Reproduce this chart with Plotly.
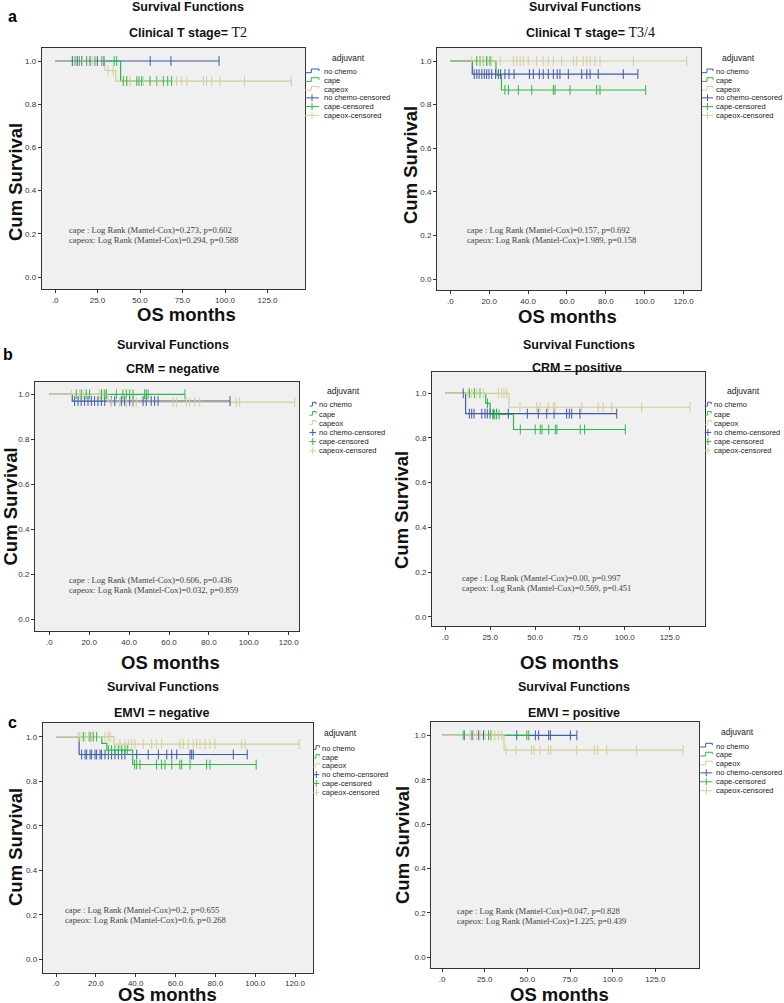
import plotly.graph_objects as go

# ---------------- DATA ----------------
GROUPS = ["no chemo", "cape", "capeox"]
COLORS = {"no chemo": "#3E58AC", "cape": "#2EB848", "capeox": "#D3CE97"}

# Panel a-left: Clinical T stage = T2
A1_NOCHEMO_EVENT_T = []
A1_NOCHEMO_EVENT_S = []
A1_NOCHEMO_CENS = [10.2, 13.1, 15.7, 20.6, 24.9, 28.8, 56.0, 68.2, 96.5]
A1_CAPE_EVENT_T = [38.6]
A1_CAPE_EVENT_S = [0.907]
A1_CAPE_CENS = [11.8, 14.3, 18.6, 23.5, 27.5, 34.8, 36.3, 40.2, 42.2, 48.1, 49.4, 51.0, 55.9, 59.8, 63.7, 66.3, 68.6]
A1_CAPEOX_EVENT_T = [29.4, 35.7]
A1_CAPEOX_EVENT_S = [0.956, 0.907]
A1_CAPEOX_CENS = [16.0, 22.0, 31.3, 34.2, 44.0, 52.0, 60.0, 71.6, 74.5, 77.5, 87.3, 89.2, 92.2, 97.1, 111.5, 139.0]

# Panel a-right: Clinical T stage = T3/4
A2_NOCHEMO_EVENT_T = [11.3]
A2_NOCHEMO_EVENT_S = [0.94]
A2_NOCHEMO_CENS = [12.3, 13.6, 14.8, 16.2, 17.5, 18.7, 19.9, 21.3, 23.3, 24.7, 25.9, 28.1, 30.2, 32.8, 40.7,
                   42.7, 45.8, 47.8, 50.4, 53.0, 55.0, 56.4, 60.7, 67.6, 70.2, 71.9, 76.1, 89.0, 96.5]
A2_CAPE_EVENT_T = [23.5, 26.3]
A2_CAPE_EVENT_S = [0.935, 0.867]
A2_CAPE_CENS = [13.6, 15.3, 17.0, 18.7, 20.4, 28.1, 29.9, 35.0, 41.9, 53.0, 53.9, 61.6, 75.3, 77.0, 100.5]
A2_CAPEOX_EVENT_T = []
A2_CAPEOX_EVENT_S = []
A2_CAPEOX_CENS = [11.0, 15.3, 17.0, 19.2, 21.3, 25.6, 32.4, 34.2, 35.9, 37.6, 40.1, 44.4, 47.8, 50.4, 53.0,
                  57.3, 63.3, 65.0, 68.4, 70.2, 71.9, 74.4, 77.0, 94.1, 121.6]

# Panel b-left: CRM = negative
B1_NOCHEMO_EVENT_T = [11.5]
B1_NOCHEMO_EVENT_S = [0.97]
B1_NOCHEMO_CENS = [12.7, 14.4, 16.0, 17.7, 19.4, 21.1, 22.7, 24.4, 26.1, 27.8, 31.1, 32.8, 36.1, 37.8, 40.3,
                   42.0, 47.0, 48.6, 51.1, 52.8, 54.5, 90.6]
B1_CAPE_EVENT_T = []
B1_CAPE_EVENT_S = []
B1_CAPE_CENS = [13.5, 16.0, 18.5, 20.2, 26.1, 27.8, 28.6, 33.6, 36.9, 38.6, 40.3, 42.0, 47.8, 48.6, 49.5, 68.0]
B1_CAPEOX_EVENT_T = [29.4]
B1_CAPEOX_EVENT_S = [0.965]
B1_CAPEOX_CENS = [11.0, 15.2, 16.9, 25.3, 26.9, 31.1, 35.3, 38.6, 42.0, 43.6, 62.0, 63.7, 68.7, 70.4, 72.9,
                  75.4, 93.7, 95.4, 123.0]

# Panel b-right: CRM = positive
B2_NOCHEMO_EVENT_T = [11.3]
B2_NOCHEMO_EVENT_S = [0.909]
B2_NOCHEMO_CENS = [10.0, 13.4, 14.7, 16.0, 20.3, 22.1, 23.4, 24.9, 26.7, 28.6, 35.1, 45.7, 51.8, 56.5, 60.6,
                   67.6, 69.1, 70.4, 75.0, 95.5]
B2_CAPE_EVENT_T = [22.5, 25.0, 38.0]
B2_CAPE_EVENT_S = [0.955, 0.905, 0.838]
B2_CAPE_CENS = [13.4, 16.2, 19.3, 23.5, 26.5, 27.5, 28.5, 30.0, 41.8, 50.1, 52.9, 53.9, 57.6, 61.3, 62.2,
                75.2, 77.6, 100.3]
B2_CAPEOX_EVENT_T = [35.5]
B2_CAPEOX_EVENT_S = [0.9375]
B2_CAPEOX_CENS = [12.8, 14.7, 17.5, 19.3, 21.2, 29.5, 31.4, 32.7, 34.2, 41.6, 50.9, 52.8, 57.4, 60.2, 61.1,
                  76.0, 85.2, 88.0, 92.7, 109.4, 136.3]

# Panel c-left: EMVI = negative
C1_NOCHEMO_EVENT_T = [11.6]
C1_NOCHEMO_EVENT_S = [0.92]
C1_NOCHEMO_CENS = [12.9, 14.6, 15.4, 17.1, 17.9, 19.6, 20.4, 22.1, 22.9, 24.6, 26.3, 27.9, 29.6, 31.3, 33.0,
                   34.6, 40.5, 46.3, 51.4, 55.6, 58.1, 60.6, 67.3, 68.1, 68.9, 89.0, 96.0]
C1_CAPE_EVENT_T = [23.0, 25.5, 38.5]
C1_CAPE_EVENT_S = [0.97, 0.94, 0.875]
C1_CAPE_CENS = [13.7, 17.1, 18.7, 20.4, 26.3, 27.9, 29.6, 31.3, 33.0, 34.6, 35.8, 39.5, 40.5, 42.2, 50.5,
                53.0, 54.7, 58.1, 62.2, 63.1, 67.3, 75.6, 77.3, 100.5]
C1_CAPEOX_EVENT_T = [29.1]
C1_CAPEOX_EVENT_S = [0.967]
C1_CAPEOX_CENS = [11.2, 12.0, 14.6, 16.3, 17.9, 24.6, 26.3, 27.1, 32.1, 34.6, 36.3, 38.0, 39.7, 43.8, 48.0,
                  50.5, 53.0, 62.2, 63.9, 66.4, 68.9, 70.6, 72.3, 74.8, 77.3, 79.8, 93.2, 94.9, 122.0]

# Panel c-right: EMVI = positive
C2_NOCHEMO_EVENT_T = []
C2_NOCHEMO_EVENT_S = []
C2_NOCHEMO_CENS = [17.6, 21.5, 24.3, 43.8, 54.7, 56.6, 62.5, 63.5, 75.2, 79.0]
C2_CAPE_EVENT_T = []
C2_CAPE_EVENT_S = []
C2_CAPE_CENS = [12.4, 13.2, 27.3, 28.7, 49.7, 50.8]
C2_CAPEOX_EVENT_T = [36.3]
C2_CAPEOX_EVENT_S = [0.933]
C2_CAPEOX_CENS = [16.4, 18.4, 20.3, 22.3, 25.2, 29.1, 31.0, 33.0, 35.0, 37.5, 43.4, 52.5, 53.9, 57.4, 62.3,
                  63.7, 78.9, 89.2, 91.2, 96.5, 114.0, 141.2]

SUBTITLES = ["Clinical T stage= ", "Clinical T stage= ", "CRM = negative", "CRM = positive",
             "EMVI = negative", "EMVI = positive"]
SUBTITLE_SERIF = ["T2", "T3/4", "", "", "", ""]
LOGRANK_CAPE = ["cape : Log Rank (Mantel-Cox)=0.273, p=0.602",
                "cape : Log Rank (Mantel-Cox)=0.157, p=0.692",
                "cape : Log Rank (Mantel-Cox)=0.606, p=0.436",
                "cape : Log Rank (Mantel-Cox)=0.00, p=0.997",
                "cape : Log Rank (Mantel-Cox)=0.2, p=0.655",
                "cape : Log Rank (Mantel-Cox)=0.047, p=0.828"]
LOGRANK_CAPEOX = ["capeox: Log Rank (Mantel-Cox)=0.294, p=0.588",
                  "capeox: Log Rank (Mantel-Cox)=1.989, p=0.158",
                  "capeox: Log Rank (Mantel-Cox)=0.032, p=0.859",
                  "capeox: Log Rank (Mantel-Cox)=0.569, p=0.451",
                  "capeox: Log Rank (Mantel-Cox)=0.6, p=0.268",
                  "capeox: Log Rank (Mantel-Cox)=1.225, p=0.439"]
X_TICKS = [[0, 25, 50, 75, 100, 125], [0, 20, 40, 60, 80, 100, 120], [0, 20, 40, 60, 80, 100, 120],
           [0, 25, 50, 75, 100, 125], [0, 20, 40, 60, 80, 100, 120], [0, 25, 50, 75, 100, 125]]
Y_TICKS = [0.0, 0.2, 0.4, 0.6, 0.8, 1.0]
LEGEND_LABELS = ["no chemo", "cape", "capeox", "no chemo-censored", "cape-censored", "capeox-censored"]
PANEL_LETTERS = ["a", "", "b", "", "c", ""]

DATA = [
    {"no chemo": (A1_NOCHEMO_EVENT_T, A1_NOCHEMO_EVENT_S, A1_NOCHEMO_CENS),
     "cape": (A1_CAPE_EVENT_T, A1_CAPE_EVENT_S, A1_CAPE_CENS),
     "capeox": (A1_CAPEOX_EVENT_T, A1_CAPEOX_EVENT_S, A1_CAPEOX_CENS)},
    {"no chemo": (A2_NOCHEMO_EVENT_T, A2_NOCHEMO_EVENT_S, A2_NOCHEMO_CENS),
     "cape": (A2_CAPE_EVENT_T, A2_CAPE_EVENT_S, A2_CAPE_CENS),
     "capeox": (A2_CAPEOX_EVENT_T, A2_CAPEOX_EVENT_S, A2_CAPEOX_CENS)},
    {"no chemo": (B1_NOCHEMO_EVENT_T, B1_NOCHEMO_EVENT_S, B1_NOCHEMO_CENS),
     "cape": (B1_CAPE_EVENT_T, B1_CAPE_EVENT_S, B1_CAPE_CENS),
     "capeox": (B1_CAPEOX_EVENT_T, B1_CAPEOX_EVENT_S, B1_CAPEOX_CENS)},
    {"no chemo": (B2_NOCHEMO_EVENT_T, B2_NOCHEMO_EVENT_S, B2_NOCHEMO_CENS),
     "cape": (B2_CAPE_EVENT_T, B2_CAPE_EVENT_S, B2_CAPE_CENS),
     "capeox": (B2_CAPEOX_EVENT_T, B2_CAPEOX_EVENT_S, B2_CAPEOX_CENS)},
    {"no chemo": (C1_NOCHEMO_EVENT_T, C1_NOCHEMO_EVENT_S, C1_NOCHEMO_CENS),
     "cape": (C1_CAPE_EVENT_T, C1_CAPE_EVENT_S, C1_CAPE_CENS),
     "capeox": (C1_CAPEOX_EVENT_T, C1_CAPEOX_EVENT_S, C1_CAPEOX_CENS)},
    {"no chemo": (C2_NOCHEMO_EVENT_T, C2_NOCHEMO_EVENT_S, C2_NOCHEMO_CENS),
     "cape": (C2_CAPE_EVENT_T, C2_CAPE_EVENT_S, C2_CAPE_CENS),
     "capeox": (C2_CAPEOX_EVENT_T, C2_CAPEOX_EVENT_S, C2_CAPEOX_CENS)},
]

# ---------------- LAYOUT (pixel geometry) ----------------
W, H = 784, 1003
SANS = "Liberation Sans, Arial, sans-serif"
SERIF = "Liberation Serif, Times New Roman, serif"

PANELS = [
    dict(frame=(41.7, 305, 48, 289), x0px=55, ppu=1.70, y1px=61, y0px=277,
         sf=(188, 7), sub=(188, 32), ytit=(15, 182), xtit=(186, 314), letter=(12, 17),
         lr=(66.7, 230, 240), leg=dict(title=(348, 57.7), sx=305, sw=14, tx=321.5, y0=71.7, dy=8.72)),
    dict(frame=(437, 701, 48, 290), x0px=450.3, ppu=1.944, y1px=61, y0px=279,
         sf=(585, 7), sub=(590, 32), ytit=(410, 165), xtit=(567, 316), letter=(0, 0),
         lr=(464.7, 230, 240), leg=dict(title=(738.7, 57.7), sx=702, sw=11, tx=714, y0=71.7, dy=8.72)),
    dict(frame=(35, 299, 381.7, 631), x0px=49.3, ppu=1.995, y1px=394.3, y0px=619.3,
         sf=(173, 345), sub=(172, 369.3), ytit=(9.5, 507), xtit=(170, 662), letter=(8, 355),
         lr=(66.7, 580, 590), leg=dict(title=(343, 391), sx=309.5, sw=6.5, tx=316.5, y0=405, dy=9.15)),
    dict(frame=(432, 704.7, 371.7, 626), x0px=445.3, ppu=1.795, y1px=393.3, y0px=616.7,
         sf=(579, 345), sub=(577, 367.5), ytit=(401, 510), xtit=(569, 662), letter=(0, 0),
         lr=(460.3, 578.3, 588.3), leg=dict(title=(743.7, 391), sx=704.7, sw=6.5, tx=711.7, y0=405, dy=9.15)),
    dict(frame=(42.7, 313.3, 722.7, 972.7), x0px=56, ppu=1.992, y1px=736.7, y0px=959.3,
         sf=(163, 687.3), sub=(162, 713.3), ytit=(15, 847), xtit=(167, 994), letter=(12, 722),
         lr=(63.3, 910, 920), leg=dict(title=(340, 733.3), sx=313.3, sw=6, tx=319.7, y0=748.3, dy=8.8)),
    dict(frame=(431.3, 698.7, 721.7, 968.3), x0px=442, ppu=1.707, y1px=735.3, y0px=957.3,
         sf=(574, 687.3), sub=(574, 712.7), ytit=(402, 845), xtit=(559, 994), letter=(0, 0),
         lr=(455.3, 910.7, 920.7), leg=dict(title=(737, 731.7), sx=700.3, sw=12, tx=713.7, y0=746, dy=8.95)),
]


def px(x):
    return x / W


def py(y):
    return 1 - y / H


def surv_at(t, ev_t, ev_s):
    s = 1.0
    for te, se in zip(ev_t, ev_s):
        if t >= te:
            s = se
    return s


fig = go.Figure()
annotations = []
shapes = []
layout_axes = {}


def ann(x, y, text, size, bold=False, family=SANS, xanchor="center", angle=0, color="#000000"):
    annotations.append(dict(x=px(x), y=py(y), xref="paper", yref="paper", text=text,
                            showarrow=False, xanchor=xanchor, yanchor="middle", textangle=angle,
                            font=dict(size=size, family=family, color=color,
                                      weight="bold" if bold else "normal")))


for i, (pan, data) in enumerate(zip(PANELS, DATA)):
    n = "" if i == 0 else str(i + 1)
    xa, ya = "x" + n, "y" + n
    # step lines (blue, green, tan drawn in that order)
    for g in GROUPS:
        ev_t, ev_s, cens = data[g]
        end = max(cens + ev_t)
        xs = [0] + list(ev_t) + [end]
        ys = [1.0] + list(ev_s) + [ev_s[-1] if ev_s else 1.0]
        fig.add_trace(go.Scatter(x=xs, y=ys, mode="lines", xaxis=xa, yaxis=ya,
                                 line=dict(shape="hv", color=COLORS[g], width=1.2),
                                 showlegend=False, hoverinfo="skip", name=g))
    for g in GROUPS:
        ev_t, ev_s, cens = data[g]
        fig.add_trace(go.Scatter(x=cens, y=[surv_at(t, ev_t, ev_s) for t in cens], mode="markers",
                                 xaxis=xa, yaxis=ya,
                                 marker=dict(symbol="line-ns", size=7,
                                             line=dict(color=COLORS[g], width=1)),
                                 showlegend=False, hoverinfo="skip", name=g + "-censored"))

    l, r, t, b = pan["frame"]
    xr = [(l - pan["x0px"]) / pan["ppu"], (r - pan["x0px"]) / pan["ppu"]]
    yspan = pan["y0px"] - pan["y1px"]
    yr = [(pan["y0px"] - b) / yspan, (pan["y0px"] - t) / yspan]
    common = dict(showline=True, mirror=True, linecolor="#333333", linewidth=1,
                  ticks="outside", ticklen=3, tickwidth=1, tickcolor="#333333",
                  tickfont=dict(size=8, family=SANS, color="#333333"),
                  showgrid=False, zeroline=False, fixedrange=True)
    layout_axes["xaxis" + n] = dict(domain=[px(l), px(r)], range=xr, anchor=ya,
                                    tickvals=X_TICKS[i],
                                    ticktext=[("%.1f" % v).lstrip("0") if v == 0 else "%.1f" % v
                                              for v in X_TICKS[i]], **common)
    layout_axes["yaxis" + n] = dict(domain=[py(b), py(t)], range=yr, anchor=xa,
                                    tickvals=Y_TICKS, ticktext=["%.1f" % v for v in Y_TICKS], **common)

    ann(pan["sf"][0], pan["sf"][1], "Survival Functions", 12.5, bold=True, color="#111111")
    sub = SUBTITLES[i]
    if SUBTITLE_SERIF[i]:
        sub += ('<span style="font-family:Liberation Serif;font-weight:normal;font-size:14px">'
                + SUBTITLE_SERIF[i] + "</span>")
    ann(pan["sub"][0], pan["sub"][1], sub, 12.5, bold=True, color="#111111")
    ann(pan["ytit"][0], pan["ytit"][1], "Cum Survival", 18.5, bold=True, angle=-90, color="#111111")
    ann(pan["xtit"][0], pan["xtit"][1], "OS months", 18.5, bold=True, color="#111111")
    if PANEL_LETTERS[i]:
        ann(pan["letter"][0], pan["letter"][1], PANEL_LETTERS[i], 16, bold=True)
    ann(pan["lr"][0], pan["lr"][1], LOGRANK_CAPE[i], 8.6, family=SERIF, xanchor="left", color="#444444")
    ann(pan["lr"][0], pan["lr"][2], LOGRANK_CAPEOX[i], 8.6, family=SERIF, xanchor="left", color="#444444")

    # legend
    lg = pan["leg"]
    ann(lg["title"][0], lg["title"][1], "adjuvant", 8.5, color="#222222")
    for k, lab in enumerate(LEGEND_LABELS):
        yy = lg["y0"] + k * lg["dy"]
        col = COLORS[GROUPS[k % 3]]
        x0, x1 = lg["sx"], lg["sx"] + lg["sw"]
        if k < 3:
            xm = x0 + lg["sw"] * 0.45
            path = "M {} {} L {} {} L {} {} L {} {} L {} {}".format(
                px(x0), py(yy + 1), px(xm), py(yy + 1), px(xm), py(yy - 2.7),
                px(x1), py(yy - 2.7), px(x1), py(yy - 0.7))
            shapes.append(dict(type="path", path=path, xref="paper", yref="paper",
                               line=dict(color=col, width=1)))
        else:
            shapes.append(dict(type="line", x0=px(x0), x1=px(x1), y0=py(yy), y1=py(yy),
                               xref="paper", yref="paper", line=dict(color=col, width=1)))
            xm = (x0 + x1) / 2
            shapes.append(dict(type="line", x0=px(xm), x1=px(xm), y0=py(yy - 3.5), y1=py(yy + 3.5),
                               xref="paper", yref="paper", line=dict(color=col, width=1)))
        ann(lg["tx"], yy, lab, 7.5, xanchor="left", color="#222222")

fig.update_layout(width=W, height=H, autosize=False, margin=dict(l=0, r=0, t=0, b=0),
                  paper_bgcolor="white", plot_bgcolor="#F0F0F0", showlegend=False,
                  annotations=annotations, shapes=shapes, **layout_axes)

fig.write_html("out.html", config={"displayModeBar": False},
               post_script="document.body.style.margin='0';document.body.style.overflow='hidden';")
